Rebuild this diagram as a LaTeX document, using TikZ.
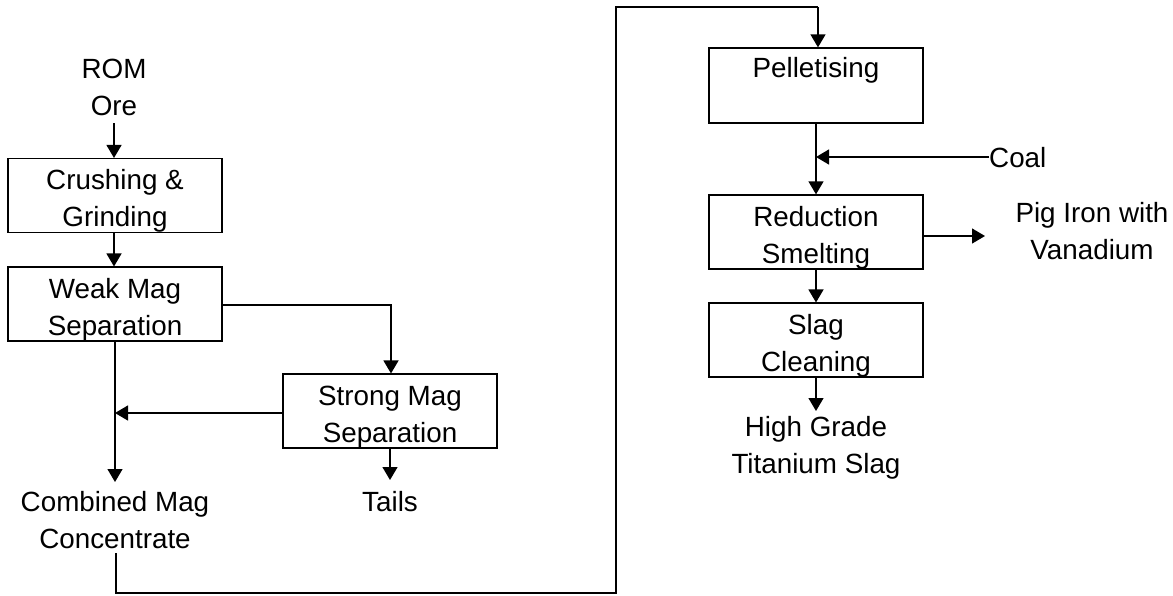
\documentclass[tikz,border=0pt]{standalone}
\usepackage{fontspec}
\setmainfont{Liberation Sans}
\usetikzlibrary{arrows.meta}
\newcommand{\toppad}{\rule{0pt}{31pt}}
\begin{document}
\begin{tikzpicture}[x=1pt,y=-1pt,
  every node/.style={font=\fontsize{27.8}{37}\selectfont, align=center, inner sep=0pt},
  procbox/.style={draw, line width=1.3pt, minimum width=214pt},
  flow/.style={line width=1.3pt, -{Triangle[length=13pt,width=15pt]}},
  plain/.style={line width=1.3pt}]
\useasboundingbox (0,0) rectangle (1173,595);
% left column
\node (rom) at (114,87) {ROM\\Ore};
\node[procbox, minimum height=73pt] (crush) at (115,195.5) {\toppad Crushing \&\\Grinding};
\node[procbox, minimum height=72pt] (weak) at (115,304) {\toppad Weak Mag\\Separation};
\node[procbox, minimum height=72pt] (strong) at (390,411) {\toppad Strong Mag\\Separation};
\node (tails) at (390,502) {Tails};
\node (comb) at (115,520) {Combined Mag\\Concentrate};
% right column
\node[procbox, minimum height=75pt] (pellet) at (816,85.5) {Pelletising\\\mbox{}};
\node[procbox, minimum height=74pt] (red) at (816,232) {\toppad Reduction\\Smelting};
\node[procbox, minimum height=72pt] (slag) at (816,340) {\toppad Slag\\Cleaning};
\node (hg) at (816,447.5) {High Grade\\Titanium Slag};
\node[anchor=west] (coal) at (989,158) {Coal};
\node (pig) at (1092,231) {Pig Iron with\\Vanadium};
% connectors
\coordinate (romb) at (114,123);
\draw[flow] (romb) -- (crush.north -| romb);
\draw[flow] (crush.south -| romb) -- (weak.north -| romb);
\coordinate (wk) at (391,305);
\draw[flow] (weak.east |- wk) -- (wk) -- (strong.north -| wk);
\coordinate (mergept) at (115,413);
\coordinate (combtop) at (115,482);
\draw[flow] (weak.south -| combtop) -- (combtop);
\draw[flow] (strong.west |- mergept) -- (mergept);
\coordinate (tailtop) at (390,480);
\draw[flow] (strong.south -| tailtop) -- (tailtop);
\coordinate (c1) at (116,553);
\coordinate (c2) at (116,593);
\coordinate (c3) at (616,593);
\coordinate (c4) at (616,7);
\coordinate (c5) at (818,7);
\draw[plain] (c1) -- (c2) -- (c3) -- (c4) -- (c5);
\draw[flow] (c5) -- (pellet.north -| c5);
\draw[flow] (pellet.south) -- (red.north);
\coordinate (coaltip) at (816,157);
\draw[flow] (coal.west |- coaltip) -- (coaltip);
\coordinate (pigtip) at (985,236);
\draw[flow] (red.east |- pigtip) -- (pigtip);
\draw[flow] (red.south) -- (slag.north);
\coordinate (hgtop) at (816,411);
\draw[flow] (slag.south) -- (hgtop);
\end{tikzpicture}
\end{document}
